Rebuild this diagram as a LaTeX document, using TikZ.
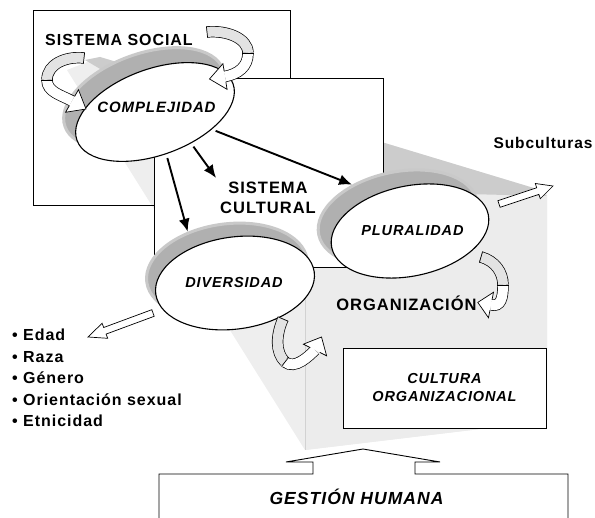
\documentclass[tikz,border=0pt]{standalone}
\usepackage{fontspec}
\setmainfont{Liberation Sans}[LetterSpace=6]
\usepackage{tikz}
\usetikzlibrary{shapes.geometric,arrows.meta,calc}

\newcommand{\ribbonhead}[2]{%
  \fill[white] ($(#1)!13pt!90:(#2)$) -- (#2) -- ($(#1)!13pt!-90:(#2)$) -- cycle;
  \draw[line width=0.7pt,line join=miter] ($(#1)!5.3pt!90:(#2)$) -- ($(#1)!13pt!90:(#2)$) -- (#2) -- ($(#1)!13pt!-90:(#2)$) -- ($(#1)!5.3pt!-90:(#2)$);}
\newcommand{\ribboncut}[2]{%
  \draw[line width=0.7pt] ($(#1)!5.7pt!90:(#2)$) -- ($(#1)!5.7pt!-90:(#2)$);}

\begin{document}
\begin{tikzpicture}[x=1pt,y=-1pt,
  frame/.style={draw=black,line width=0.9pt},
  oval/.style={ellipse,draw=black,line width=1.1pt,fill=white,inner sep=0pt},
  ovalshadow/.style={ellipse,fill=gray!62,draw=gray!42,line width=3pt,inner sep=0pt},
  heading/.style={font=\fontsize{16.5}{20}\selectfont\bfseries,inner sep=0pt},
  ovaltext/.style={font=\fontsize{14.5}{17}\selectfont\bfseries\itshape,inner sep=0pt,anchor=base},
  rasgo/.style={font=\fontsize{16}{19}\selectfont\bfseries,inner sep=0pt,anchor=base west},
  link/.style={line width=1.9pt,-{Latex[length=13pt,width=11pt]},shorten <=4pt},
  blockarrow/.style={draw=black,line width=0.7pt,fill=white,line join=miter},
  ribbonback/.style={line width=0.7pt,double=gray!22,double distance=10pt},
  ribbonfront/.style={line width=0.7pt,double=white,double distance=10pt}]

\useasboundingbox (0,0) rectangle (595,518);

% sistema social y cono
\fill[white] (33,10) rectangle (290,205);
\fill[gray!13] (100,57) -- (547,192) -- (547,421) -- (305,450) -- (67,70) -- cycle;
\fill[gray!15] (305,190) -- (547,196) -- (547,421) -- (305,450) -- cycle;
\draw[gray!35,line width=0.6pt] (305,190) -- (305,450);
\fill[gray!40] (100,57) -- (537,189) -- (547,196) -- (305,190) -- (85,60) -- cycle;
\draw[frame] (33,10) rectangle (290,205);
\draw[frame,fill=white] (154,78) rectangle (383,267);

% flechas huecas
\draw[blockarrow] (151.8,309.7) -- (103.7,327.5) -- (102.1,323.3) -- (88,337) -- (107.7,338.3) -- (106.1,334.1) -- (154.2,316.3) -- cycle;
\draw[blockarrow] (497.9,200.7) -- (536.7,187.8) -- (535.3,183.5) -- (553,186) -- (540.3,198.7) -- (538.9,194.4) -- (500.1,207.3) -- cycle;

% ovalos
\node[ovalshadow,rotate=20,minimum width=168pt,minimum height=88pt] (compsh) at (144,98) {};
\node[oval,rotate=20,minimum width=166pt,minimum height=86pt] (comp) at (155,112) {};
\node[ovalshadow,rotate=8,minimum width=162pt,minimum height=94pt] (divsh) at (227,271) {};
\node[oval,rotate=8,minimum width=160pt,minimum height=92pt] (div) at (235,283) {};
\node[ovalshadow,rotate=12,minimum width=162pt,minimum height=92pt] (plush) at (398,218) {};
\node[oval,rotate=12,minimum width=160pt,minimum height=90pt] (plu) at (410,231) {};

\node[ovaltext,font=\fontsize{15}{18}\selectfont\bfseries\itshape] (complabel) at (156.5,112.4) {COMPLEJIDAD};
\node[ovaltext] (divlabel) at (234,287.2) {DIVERSIDAD};
\node[ovaltext] (plulabel) at (412.5,235.2) {PLURALIDAD};

\node[heading,font=\fontsize{16}{19}\selectfont\bfseries,anchor=base] (social) at (119,45.7) {SISTEMA SOCIAL};
\node[heading,align=center,inner sep=4pt] (cult) at (268,198) {SISTEMA\\CULTURAL};
\node[heading,anchor=base] (org) at (406.5,310.9) {ORGANIZACIÓN};
\node[heading,font=\fontsize{15.5}{18}\selectfont\bfseries,anchor=base] (subcult) at (543,148.5) {Subculturas};

% flechas negras
\draw[link] (comp.-95) -- (divsh.127);
\draw[link] (comp.-61) -- (cult.north west);
\draw[link] (comp.-37) -- (plush.132);

% cintas curvas
\coordinate (ra) at (72,101);
\coordinate (rat) at (86,109);
\draw[ribbonback] (84,58) .. controls (66,56) and (47,64) .. (47,80);
\draw[ribbonfront] (47,80) .. controls (47,92) and (61,95) .. (ra);
\ribboncut{84,58}{66,56}
\ribboncut{47,80}{47,92}
\ribbonhead{ra}{rat}

\coordinate (rb) at (225,76.5);
\coordinate (rbt) at (209.5,79);
\draw[ribbonback] (207,32) .. controls (226,30) and (248,38) .. (248,53);
\draw[ribbonfront] (248,53) .. controls (248,67) and (238,74) .. (rb);
\ribboncut{207,32}{226,30}
\ribboncut{248,53}{248,67}
\ribbonhead{rb}{rbt}

\coordinate (rc) at (491,305);
\coordinate (rct) at (477.8,302.4);
\draw[ribbonback] (481,257) .. controls (495,261) and (503,272) .. (503,285);
\draw[ribbonfront] (503,285) .. controls (503,298) and (501,307) .. (rc);
\ribboncut{481,257}{495,261}
\ribboncut{503,285}{503,298}
\ribbonhead{rc}{rct}

\coordinate (rd) at (315,350);
\coordinate (rdt) at (321.5,337);
\draw[ribbonback] (283,319) .. controls (276,335) and (275,352) .. (285,362);
\draw[ribbonfront] (285,362) .. controls (295,370) and (309,356) .. (rd);
\ribboncut{283,319}{276,335}
\ribboncut{285,362}{295,370}
\ribbonhead{rd}{rdt}

% cultura organizacional y gestion humana
\node[frame,fill=white,minimum width=203pt,minimum height=80pt,align=center,
  font=\fontsize{14.5}{18}\selectfont\bfseries\itshape] (cultorg) at (444.5,388) {CULTURA\\ORGANIZACIONAL};
\draw[frame,fill=white] (159,520) -- (159,474) -- (313,474) -- (313,462) -- (286,462) -- (363,449)
  -- (440,462) -- (415,462) -- (415,474) -- (568,474) -- (568,520);
\node[ovaltext,font=\fontsize{17.5}{20}\selectfont\bfseries\itshape] (gestion) at (356.5,504.3) {GESTIÓN HUMANA};

% rasgos de diversidad
\node[rasgo] (edad) at (12,340.7) {\textbullet\ Edad};
\node[rasgo] (raza) at (12,362.2) {\textbullet\ Raza};
\node[rasgo] (genero) at (12,383.7) {\textbullet\ Género};
\node[rasgo] (orient) at (12,405.2) {\textbullet\ Orientación sexual};
\node[rasgo] (etnia) at (12,426.2) {\textbullet\ Etnicidad};

\end{tikzpicture}
\end{document}
